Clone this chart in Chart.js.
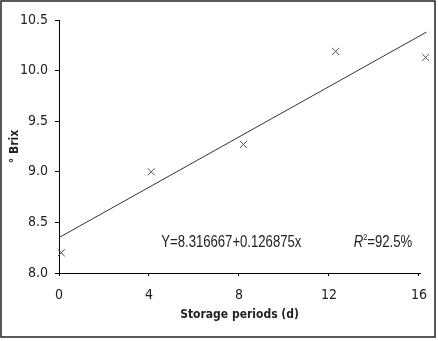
<!DOCTYPE html>
<html><head><meta charset="utf-8">
<script src="https://cdn.jsdelivr.net/npm/chart.js@4"></script>
<style>html,body{margin:0;padding:0;background:#fff}#w{width:438px;height:341px}</style>
</head><body><div id="w"><canvas id="c" width="438" height="341"></canvas></div>
<script>
const days = [0.1, 4.1, 8.2, 12.3, 16.3];
const brix = [8.2, 9.0, 9.27, 10.19, 10.13];
const fitX = [0, 16.33];
const fitY = [8.35, 10.38];
const xTicks = [0, 4, 8, 12, 16];
const yTicks = [8.0, 8.5, 9.0, 9.5, 10.0, 10.5];
const eqText = 'Y=8.316667+0.126875x';
const eqPos = [7.66, 8.3];
const r2Pos = [14.4, 8.3];
const xTitle = 'Storage periods (d)';
const yTitle = '\u00B0 Brix';
const FF = '"DejaVu Sans Condensed", "Liberation Sans", sans-serif';
const NF = '"Liberation Sans", Arial, sans-serif';
const SQ = 0.82; // horizontal squeeze for narrow look

const annot = {
  id: 'annot',
  afterDraw(chart) {
    const ctx = chart.ctx, xs = chart.scales.x, ys = chart.scales.y;
    ctx.save();
    ctx.fillStyle = '#222';
    ctx.textBaseline = 'middle';
    // equation
    let cx = xs.getPixelForValue(eqPos[0]), cy = ys.getPixelForValue(eqPos[1]);
    ctx.save();
    ctx.translate(cx, cy); ctx.scale(SQ, 1);
    ctx.textAlign = 'center';
    ctx.font = '16px ' + NF;
    ctx.fillText(eqText, 0, 0);
    ctx.restore();
    // R^2 = 92.5%
    cx = xs.getPixelForValue(r2Pos[0]); cy = ys.getPixelForValue(r2Pos[1]);
    ctx.save();
    ctx.translate(cx, cy); ctx.scale(SQ, 1);
    ctx.textAlign = 'left';
    const p1 = 'italic 16px ' + NF, p2 = '9px ' + NF, p3 = '16px ' + NF;
    ctx.font = p1; const w1 = ctx.measureText('R').width;
    ctx.font = p2; const w2 = ctx.measureText('2').width;
    ctx.font = p3; const w3 = ctx.measureText('=92.5%').width;
    let x = -(w1 + w2 + w3) / 2;
    ctx.font = p1; ctx.fillText('R', x, 0); x += w1;
    ctx.font = p2; ctx.fillText('2', x, -5); x += w2;
    ctx.font = p3; ctx.fillText('=92.5%', x, 0);
    ctx.restore();
    // outer frame
    ctx.strokeStyle = '#222';
    ctx.lineWidth = 1.5;
    ctx.strokeRect(1, 1, 434, 336);
    ctx.restore();
  }
};

new Chart(document.getElementById('c'), {
  type: 'scatter',
  data: {
    datasets: [
      {
        data: days.map((d, i) => ({x: d, y: brix[i]})),
        pointStyle: 'crossRot', pointRadius: 5, pointBorderWidth: 1,
        borderColor: '#555', backgroundColor: '#555', clip: false
      },
      {
        type: 'line',
        data: fitX.map((d, i) => ({x: d, y: fitY[i]})),
        borderColor: '#333', borderWidth: 1, pointRadius: 0, fill: false, clip: false
      }
    ]
  },
  options: {
    responsive: false, animation: false,
    layout: {padding: {top: 20, right: 17, left: 0, bottom: 0}},
    plugins: {legend: {display: false}, tooltip: {enabled: false}},
    scales: {
      x: {
        type: 'linear', min: 0, max: 16.05,
        afterBuildTicks: s => { s.ticks = xTicks.map(v => ({value: v})); },
        afterFit: s => { s.height = 68; },
        ticks: {color: '#222', font: {family: FF, size: 14}, padding: 11, maxRotation: 0},
        grid: {drawOnChartArea: false, drawTicks: true, tickLength: 3, color: '#000'},
        border: {display: true, color: '#000', width: 1},
        title: {display: true, text: xTitle, color: '#222', font: {family: FF, size: 12, weight: 'bold'}, padding: {top: 0, bottom: 19}}
      },
      y: {
        type: 'linear', min: 8, max: 10.5,
        afterBuildTicks: s => { s.ticks = yTicks.map(v => ({value: v})); },
        afterFit: s => { s.width = 59; },
        ticks: {color: '#222', font: {family: FF, size: 14}, padding: 7, callback: v => v.toFixed(1)},
        grid: {drawOnChartArea: false, drawTicks: true, tickLength: 4, color: '#000'},
        border: {display: true, color: '#000', width: 1},
        title: {display: true, text: yTitle, color: '#222', font: {family: FF, size: 12, weight: 'bold'}, padding: {top: 8, bottom: 0}}
      }
    }
  },
  plugins: [annot]
});
</script></body></html>
